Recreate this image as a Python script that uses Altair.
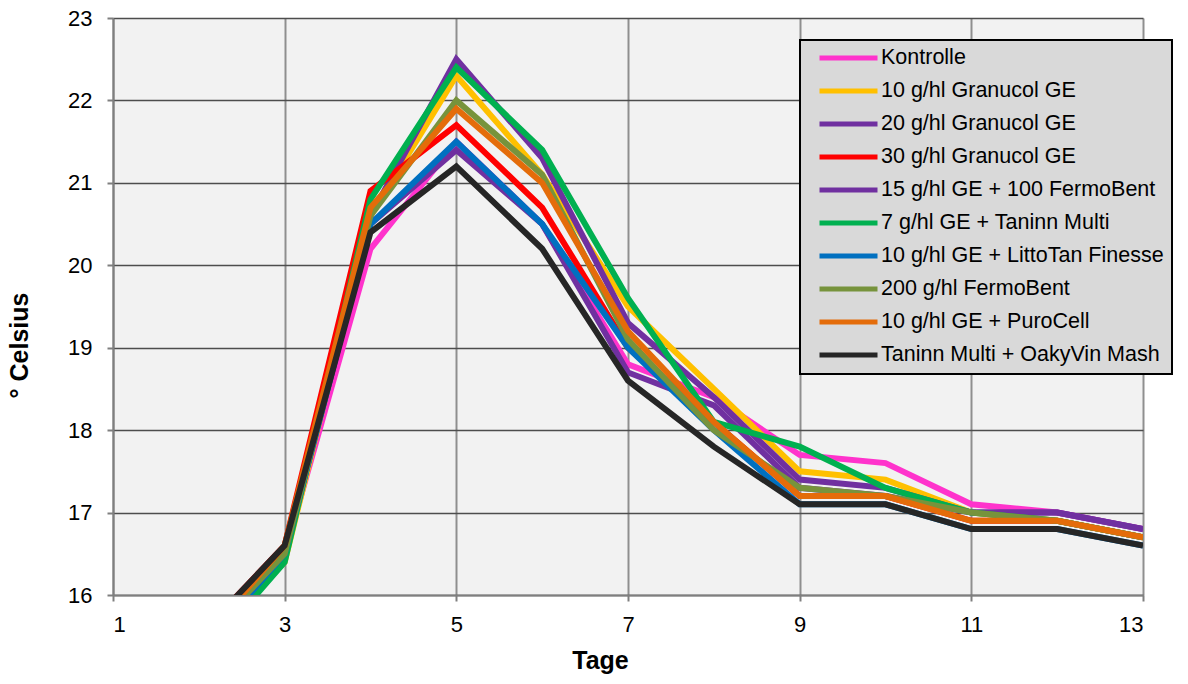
import altair as alt
import pandas as pd

days = [2, 3, 4, 5, 6, 7, 8, 9, 10, 11, 12, 13]

series_names = [
    "Kontrolle",
    "10 g/hl Granucol GE",
    "20 g/hl Granucol GE",
    "30 g/hl Granucol GE",
    "15 g/hl GE + 100 FermoBent",
    "7 g/hl GE + Taninn Multi",
    "10 g/hl GE + LittoTan Finesse",
    "200 g/hl FermoBent",
    "10 g/hl GE + PuroCell",
    "Taninn Multi + OakyVin Mash",
]

colors = ["#ff33cc", "#ffc000", "#7030a0", "#ff0000", "#7030a0",
          "#00b050", "#0070c0", "#77933c", "#e46c0a", "#262626"]

kontrolle = [15.3, 16.5, 20.2, 21.5, 20.5, 18.8, 18.4, 17.7, 17.6, 17.1, 17.0, 16.8]
granucol10 = [15.3, 16.4, 20.6, 22.3, 21.1, 19.5, 18.5, 17.5, 17.4, 17.0, 16.9, 16.7]
granucol20 = [15.4, 16.5, 20.6, 22.5, 21.3, 19.3, 18.4, 17.4, 17.3, 17.0, 17.0, 16.8]
granucol30 = [15.5, 16.6, 20.9, 21.7, 20.7, 19.0, 18.1, 17.2, 17.2, 16.9, 16.9, 16.7]
ge15_fermo = [15.4, 16.5, 20.5, 21.4, 20.5, 18.7, 18.3, 17.3, 17.2, 17.0, 17.0, 16.8]
ge7_taninn = [15.2, 16.4, 20.8, 22.4, 21.4, 19.6, 18.1, 17.8, 17.3, 17.0, 16.9, 16.7]
ge10_litto = [15.3, 16.5, 20.5, 21.5, 20.5, 19.0, 18.0, 17.1, 17.1, 16.8, 16.8, 16.6]
fermo200 = [15.4, 16.5, 20.6, 22.0, 21.1, 19.1, 18.0, 17.3, 17.2, 17.0, 16.9, 16.7]
ge10_puro = [15.4, 16.6, 20.7, 21.9, 21.0, 19.2, 18.1, 17.2, 17.2, 16.9, 16.9, 16.7]
taninn_oaky = [15.5, 16.6, 20.4, 21.2, 20.2, 18.6, 17.8, 17.1, 17.1, 16.8, 16.8, 16.6]

all_values = [kontrolle, granucol10, granucol20, granucol30, ge15_fermo,
              ge7_taninn, ge10_litto, fermo200, ge10_puro, taninn_oaky]

x_ticks = [1, 3, 5, 7, 9, 11, 13]
y_ticks = [16, 17, 18, 19, 20, 21, 22, 23]

rows = []
for i, (name, vals) in enumerate(zip(series_names, all_values)):
    for d, v in zip(days, vals):
        rows.append({"Tag": d, "Temp": v, "Serie": name, "order": i})
df = pd.DataFrame(rows)

font = "Liberation Sans"

chart = alt.Chart(df).mark_line(clip=True, strokeWidth=6, strokeJoin="miter").encode(
    x=alt.X("Tag:Q",
            scale=alt.Scale(domain=[1, 13], nice=False, zero=False),
            axis=alt.Axis(values=x_ticks, title="Tage", grid=True,
                          gridColor="#8f8f8f", gridWidth=2,
                          domainColor="#7f7f7f", domainWidth=2,
                          tickColor="#7f7f7f", tickSize=6, tickWidth=2,
                          labelPadding=13, labelFontSize=22, labelFont=font,
                          labelColor="#000000",
                          titleFont=font, titleFontSize=25, titleFontWeight="bold",
                          titlePadding=13, titleColor="#000000", titleX=487)),
    y=alt.Y("Temp:Q",
            scale=alt.Scale(domain=[16, 23], nice=False, zero=False),
            axis=alt.Axis(values=y_ticks, title="° Celsius", grid=True,
                          gridColor="#4d4d4d", gridWidth=1.5,
                          domainColor="#7f7f7f", domainWidth=2,
                          tickColor="#7f7f7f", tickSize=6, tickWidth=2,
                          labelPadding=15, labelFontSize=22, labelFont=font,
                          labelColor="#000000",
                          titleFont=font, titleFontSize=25, titleFontWeight="bold",
                          titlePadding=35, titleColor="#000000", titleY=327)),
    color=alt.Color("Serie:N",
                    scale=alt.Scale(domain=series_names, range=colors),
                    sort=series_names,
                    legend=alt.Legend(title=None, orient="none",
                                      legendX=687, legendY=22,
                                      fillColor="#d9d9d9", strokeColor="#000000",
                                      padding=8, symbolType="stroke",
                                      symbolSize=3364, symbolStrokeWidth=5,
                                      symbolOffset=9, clipHeight=20,
                                      rowPadding=11, labelOffset=1,
                                      labelFontSize=21.5, labelFont=font,
                                      labelColor="#000000", labelLimit=400)),
    order=alt.Order("order:Q"),
).properties(
    width=1030,
    height=577,
    autosize=alt.AutoSizeParams(type="none"),
    padding={"left": 113, "top": 18, "right": 45, "bottom": 89},
    background="#ffffff",
).configure_view(
    fill="#f2f2f2", stroke=None
).configure_legend(
    strokeWidth=2
)

chart.save("out.html", embed_options={"renderer": "svg", "actions": False})
